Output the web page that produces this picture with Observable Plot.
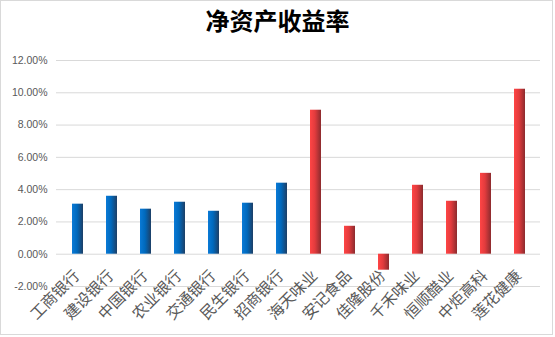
<!DOCTYPE html>
<html>
<head>
<meta charset="utf-8">
<script src="https://cdn.jsdelivr.net/npm/d3@7"></script>
<script src="https://cdn.jsdelivr.net/npm/@observablehq/plot@0.6"></script>
<style>
  html, body { margin: 0; padding: 0; background: #fff; }
  #chart { width: 555px; height: 337px; }
</style>
</head>
<body>
<div id="chart"></div>
<script>
const title = "净资产收益率";
const categories = ["工商银行","建设银行","中国银行","农业银行","交通银行","民生银行","招商银行","海天味业","安记食品","佳隆股份","千禾味业","恒顺醋业","中炬高科","莲花健康"];
const values = [3.10, 3.59, 2.79, 3.22, 2.66, 3.16, 4.40, 8.92, 1.73, -0.99, 4.27, 3.28, 5.01, 10.22];
const groups = ["bank","bank","bank","bank","bank","bank","bank","food","food","food","food","food","food","food"];
const yTicks = [-2, 0, 2, 4, 6, 8, 10, 12];

const data = categories.map((c, i) => ({cat: c, value: values[i], group: groups[i]}));
const fillFor = {bank: "url(#gradBlue)", food: "url(#gradRed)"};

const svg = Plot.plot({
  width: 555,
  height: 337,
  marginLeft: 56,
  marginRight: 15,
  marginTop: 60,
  marginBottom: 51,
  style: {background: "#fff", overflow: "visible"},
  x: {domain: categories, paddingInner: 0.68, paddingOuter: 0.34, axis: null},
  y: {domain: [-2, 12], ticks: yTicks, tickSize: 0, tickPadding: 9, tickFormat: d => d.toFixed(2) + "%", label: null},
  marks: [
    Plot.ruleY(yTicks, {stroke: "#d9d9d9", strokeWidth: 1}),
    Plot.barY(data, {x: "cat", y1: 0, y2: "value", fill: d => fillFor[d.group]}),
    Plot.text(data, {x: "cat", y: () => 0, text: "cat", rotate: -45, textAnchor: "end", lineAnchor: "middle", dx: -1, dy: 19, fontSize: 15.5, fill: "#595959", fontFamily: "Noto Sans CJK SC"}),
    Plot.text([title], {frameAnchor: "top", dx: -21, dy: -38, lineAnchor: "middle", fontSize: 24, fontWeight: "bold", fill: "#000", fontFamily: "Noto Sans CJK SC"})
  ]
});

const s = d3.select(svg);
s.selectAll("g[aria-label='y-axis tick label'] text, g[aria-label='y-axis'] text")
  .attr("fill", "#595959").style("font-size", "10.5px").style("font-family", "'Liberation Sans', Arial, sans-serif");
s.select("g[aria-label='y-axis tick label']").attr("font-size", 10.5).attr("fill", "#595959").attr("font-family", "'Liberation Sans', Arial, sans-serif");

const defs = s.insert("defs", ":first-child");
const gb = defs.append("linearGradient").attr("id", "gradBlue").attr("x1", 0).attr("x2", 1).attr("y1", 0).attr("y2", 0);
gb.append("stop").attr("offset", "0%").attr("stop-color", "#0a7ad6");
gb.append("stop").attr("offset", "45%").attr("stop-color", "#0069bd");
gb.append("stop").attr("offset", "100%").attr("stop-color", "#1d3f66");
const gr = defs.append("linearGradient").attr("id", "gradRed").attr("x1", 0).attr("x2", 1).attr("y1", 0).attr("y2", 0);
gr.append("stop").attr("offset", "0%").attr("stop-color", "#ff4545");
gr.append("stop").attr("offset", "45%").attr("stop-color", "#e23b3d");
gr.append("stop").attr("offset", "100%").attr("stop-color", "#8c2b2e");

s.append("rect").attr("x", 0.5).attr("y", 0.5).attr("width", 552).attr("height", 334)
  .attr("fill", "none").attr("stroke", "#d9d9d9").attr("stroke-width", 1);

document.getElementById("chart").appendChild(svg);
</script>
</body>
</html>
